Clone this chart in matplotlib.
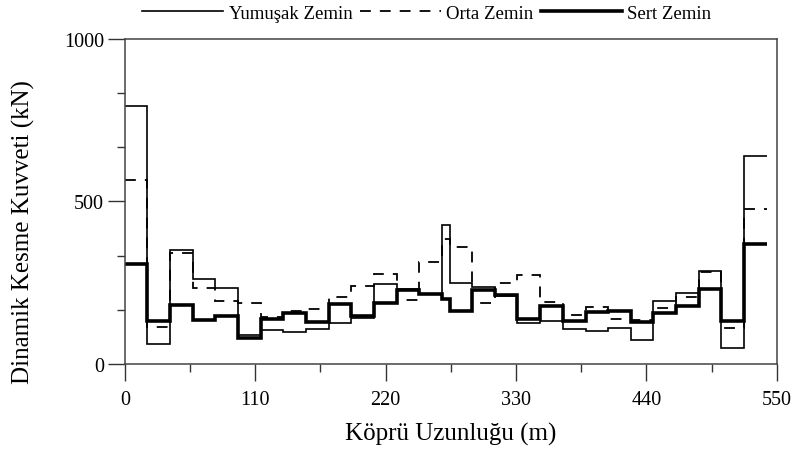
import matplotlib
matplotlib.use("Agg")
import matplotlib.pyplot as plt
from matplotlib.ticker import MultipleLocator

plt.rcParams["font.family"] = ["Liberation Serif", "DejaVu Serif"]

# Segment boundaries along the bridge (m)
x_edges = [0.0, 19.1, 38.2, 57.3, 76.4, 95.6, 114.7, 133.8, 152.9, 172.0,
           191.1, 210.2, 229.3, 248.4, 267.5, 274.0, 293.1, 312.2, 331.3,
           350.4, 369.6, 388.7, 407.8, 426.9, 446.0, 465.1, 484.2, 503.3,
           522.4, 542.0]

# Dynamic shear force per segment (kN)
yumusak = [795, 60, 350, 260, 233, 88, 105, 99, 107, 125,
           140, 245, 230, 215, 428, 249, 237, 210, 125, 133,
           109, 101, 110, 74, 195, 217, 285, 48, 641]
orta = [565, 115, 340, 233, 193, 189, 145, 164, 168, 207,
        239, 278, 198, 313, 385, 359, 189, 250, 273, 191,
        151, 174, 137, 135, 172, 205, 283, 112, 477]
sert = [308, 131, 180, 135, 149, 81, 139, 157, 128, 184,
        147, 189, 227, 216, 200, 162, 228, 213, 138, 177,
        133, 160, 162, 130, 158, 179, 232, 131, 369]

series_labels = ["Yumuşak Zemin", "Orta Zemin", "Sert Zemin"]
x_ticks = [0, 110, 220, 330, 440, 550]
y_ticks = [0, 500, 1000]

fig = plt.figure(figsize=(7.95, 4.52), dpi=100)
ax = fig.add_axes([0.157, 0.1925, 0.820, 0.719])

ax.stairs(yumusak, x_edges, baseline=None, color="black", lw=1.2,
          label=series_labels[0])
ax.stairs(orta, x_edges, baseline=None, color="black", lw=1.3,
          linestyle=(0, (6, 5)), label=series_labels[1])
ax.stairs(sert, x_edges, baseline=None, color="black", lw=2.6,
          label=series_labels[2])

ax.set_xlim(0, 550)
ax.set_ylim(0, 1000)
ax.set_xticks(x_ticks)
ax.set_yticks(y_ticks)
ax.xaxis.set_minor_locator(MultipleLocator(55))
ax.yaxis.set_minor_locator(MultipleLocator(1000 / 6))

for s in ax.spines.values():
    s.set_color("#444444")
    s.set_linewidth(1.1)

ax.tick_params(axis="both", which="major", direction="out", length=12,
               width=1.0, color="#333333", labelsize=14.5)
ax.tick_params(axis="x", which="major", pad=7)
ax.tick_params(axis="y", which="major", pad=3)
ax.tick_params(axis="both", which="minor", direction="out", length=6,
               width=1.0, color="#333333")

ax.set_xlabel("Köprü Uzunluğu (m)", fontsize=18)
ax.set_ylabel("Dinamik Kesme Kuvveti (kN)", fontsize=18)
ax.xaxis.set_label_coords(0.5, -0.178)
ax.yaxis.set_label_coords(-0.138, 0.41)

fig.legend(loc="center", bbox_to_anchor=(0.537, 0.968), ncol=3,
           frameon=False, fontsize=13.5, handlelength=4.3,
           handletextpad=0.3, columnspacing=0.4, borderaxespad=0)

fig.savefig("out.png", dpi=100)
